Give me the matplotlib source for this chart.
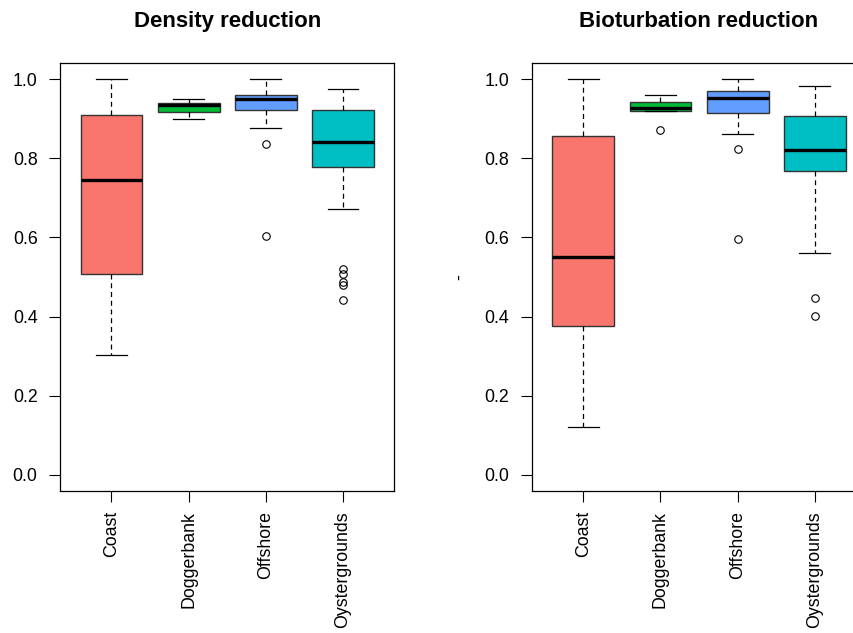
import matplotlib
matplotlib.use("Agg")
import matplotlib.pyplot as plt

plt.rcParams['font.family'] = ['Liberation Sans', 'DejaVu Sans']

categories = ["Coast", "Doggerbank", "Offshore", "Oystergrounds"]
colors = ["#F8766D", "#00BA38", "#619CFF", "#00BFC4"]

# Five-number summaries per region: (whislo, q1, med, q3, whishi)
density_stats = [
    (0.304, 0.507, 0.744, 0.909, 1.000),
    (0.900, 0.917, 0.934, 0.939, 0.950),
    (0.877, 0.923, 0.951, 0.959, 1.000),
    (0.673, 0.779, 0.841, 0.921, 0.976),
]
density_outliers = [
    [],
    [],
    [0.835, 0.604],
    [0.519, 0.508, 0.487, 0.480, 0.442],
]

bioturb_stats = [
    (0.120, 0.375, 0.551, 0.856, 1.000),
    (0.919, 0.920, 0.928, 0.942, 0.960),
    (0.862, 0.915, 0.953, 0.970, 1.000),
    (0.561, 0.767, 0.821, 0.908, 0.983),
]
bioturb_outliers = [
    [],
    [0.871],
    [0.824, 0.596],
    [0.448, 0.401],
]

titles = ["Density reduction", "Bioturbation reduction"]
ylabels = ["", "-"]
yticks = [0.0, 0.2, 0.4, 0.6, 0.8, 1.0]

W, H = 854, 633
fig = plt.figure(figsize=(W / 100, H / 100), dpi=100)

ax_w = 333.5 / W
ax_h = 427.4 / H
ax_b = (H - 490.7) / H
axes = [
    fig.add_axes([60.5 / W, ax_b, ax_w, ax_h]),
    fig.add_axes([532.3 / W, ax_b, ax_w, ax_h]),
]


def make_stats(stats, outliers):
    out = []
    for (lo, q1, med, q3, hi), fl, name in zip(stats, outliers, categories):
        out.append(dict(whislo=lo, q1=q1, med=med, q3=q3, whishi=hi,
                        fliers=fl, label=name))
    return out


for ax, title, ylab, stats, outl in zip(
        axes, titles, ylabels,
        [density_stats, bioturb_stats],
        [density_outliers, bioturb_outliers]):
    bp = ax.bxp(
        make_stats(stats, outl),
        positions=[1, 2, 3, 4],
        widths=0.8,
        patch_artist=True,
        showfliers=True,
        boxprops=dict(edgecolor="#333333", linewidth=1.0),
        medianprops=dict(color="black", linewidth=2.4, solid_capstyle="butt"),
        whiskerprops=dict(color="black", linewidth=0.9, linestyle=(0, (4, 3))),
        capprops=dict(color="black", linewidth=0.9),
        flierprops=dict(marker="o", markerfacecolor="none",
                        markeredgecolor="black", markersize=5.4,
                        markeredgewidth=0.8),
        capwidths=0.4,
    )
    for patch, c in zip(bp["boxes"], colors):
        patch.set_facecolor(c)

    ax.set_xlim(0.34, 4.66)
    ax.set_ylim(-0.04, 1.04)
    ax.set_yticks(yticks)
    ax.set_yticklabels([f"{v:.1f}" for v in yticks])
    ax.set_xticks([1, 2, 3, 4])
    ax.set_xticklabels(categories, rotation=90)
    ax.tick_params(axis="both", direction="out", length=7.7, width=0.8,
                   labelsize=12.8, color="black")
    ax.tick_params(axis="y", pad=8.8)
    ax.tick_params(axis="x", pad=7)
    for sp in ax.spines.values():
        sp.set_linewidth(0.9)
        sp.set_color("black")
    ax.set_title(title, fontsize=16, fontweight="bold", pad=26)
    if ylab:
        ax.set_ylabel(ylab, fontsize=12.8, labelpad=12)

fig.savefig("out.png", dpi=100)
